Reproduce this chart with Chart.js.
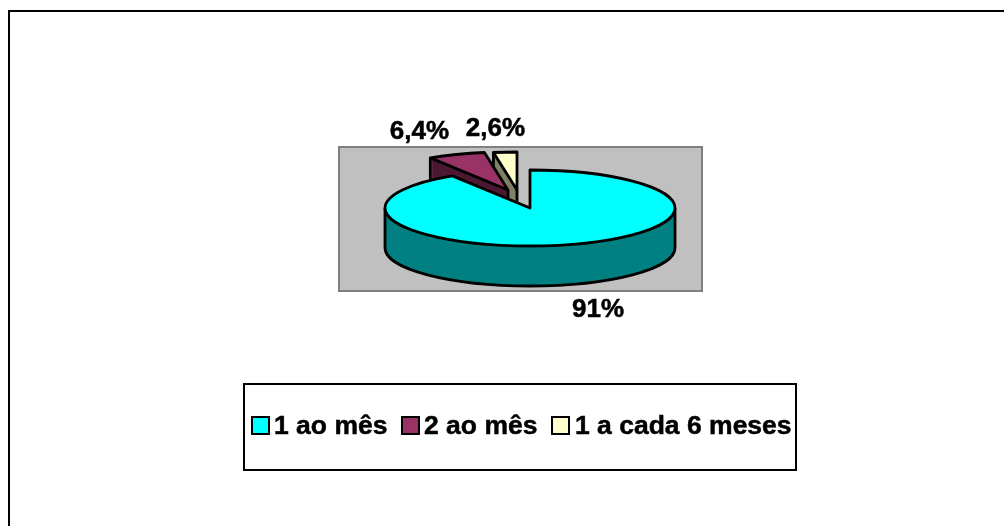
<!DOCTYPE html>
<html><head><meta charset="utf-8">
<style>html,body{margin:0;padding:0;background:#fff}#w{position:relative;width:1004px;height:526px}canvas{display:block}</style>
<script src="https://cdn.jsdelivr.net/npm/chart.js@4"></script>
</head><body><div id="w"><canvas id="c" width="1004" height="526"></canvas></div>
<script>
const categories = ['1 ao mês', '2 ao mês', '1 a cada 6 meses'];
const values = [91, 6.4, 2.6];
const valueLabels = ['91%', '6,4%', '2,6%'];
const topColors = ['#00FFFF', '#993366', '#FFFFCC'];
const sideColors = ['#008080', '#4D1A33', '#808066'];

const FONT = 'bold 26.5px "Liberation Sans", Arial, sans-serif';
const LABEL_FONT = 'bold 26px "Liberation Sans", Arial, sans-serif';
const TILT = 38 / 145, DEPTH = 40;
const explode = [[0, 0], [-22, -18], [-13, -18]];
const labelPos = [[598, 310], [419.5, 132], [495.5, 129]];

function withOpts(arc, fn, color) {
  const saved = arc.options;
  arc.options = Object.assign({}, saved, {backgroundColor: color, borderWidth: 0, borderColor: color, spacing: 0, offset: 0});
  fn();
  arc.options = saved;
}
function fillArc(ctx, arc, dx, dy, color) {
  ctx.save();
  ctx.translate(arc.x + dx, arc.y + dy);
  ctx.scale(1, TILT);
  ctx.translate(-arc.x, -arc.y);
  withOpts(arc, () => arc.draw(ctx), color);
  ctx.restore();
}
function outlinePath(ctx, arc, dx, dy) {
  const x = arc.x + dx, y = arc.y + dy, r = arc.outerRadius;
  ctx.beginPath();
  ctx.moveTo(x, y);
  ctx.ellipse(x, y, r, r * TILT, 0, arc.startAngle, arc.endAngle);
  ctx.closePath();
}
function pt(arc, a, dx, dy) {
  return [arc.x + dx + arc.outerRadius * Math.cos(a), arc.y + dy + arc.outerRadius * TILT * Math.sin(a)];
}
function heavyText(ctx, t, x, y) {
  ctx.fillText(t, x, y);
  ctx.strokeText(t, x, y);
}

const pie3d = {
  id: 'pie3d',
  beforeDraw(chart) {
    const ctx = chart.ctx;
    ctx.save();
    ctx.fillStyle = '#fff';
    ctx.fillRect(0, 0, 1004, 526);
    ctx.fillStyle = '#C0C0C0';
    ctx.strokeStyle = '#808080';
    ctx.lineWidth = 2;
    ctx.fillRect(339, 147, 363, 144);
    ctx.strokeRect(339, 147, 363, 144);
    ctx.strokeStyle = '#000';
    ctx.strokeRect(9, 11, 1100, 600);
    ctx.restore();
  },
  beforeDatasetDraw(chart) {
    const ctx = chart.ctx;
    const arcs = chart.getDatasetMeta(0).data;
    ctx.save();
    ctx.lineJoin = 'round';
    [2, 1, 0].forEach(i => {
      const arc = arcs[i], [dx, dy] = explode[i];
      for (let d = DEPTH; d > 0; d--) fillArc(ctx, arc, dx, dy + d, sideColors[i]);
      ctx.strokeStyle = '#000';
      ctx.lineWidth = 2.8;
      const s = arc.startAngle;
      if (i === 0) {
        ctx.beginPath();
        ctx.ellipse(arc.x + dx, arc.y + dy + DEPTH, arc.outerRadius, arc.outerRadius * TILT, 0, 0, Math.PI);
        ctx.stroke();
      }
      const edges = i === 0 ? [0, Math.PI] : [s];
      edges.forEach(a => {
        const [px, py] = pt(arc, a, dx, dy);
        ctx.beginPath(); ctx.moveTo(px, py); ctx.lineTo(px, py + DEPTH); ctx.stroke();
      });
      if (i !== 0) {
        const bx = arc.x + dx, by = arc.y + dy;
        const [px, py] = pt(arc, s, dx, dy);
        ctx.beginPath(); ctx.moveTo(bx, by); ctx.lineTo(bx, by + DEPTH); ctx.lineTo(px, py + DEPTH); ctx.stroke();
      }
      fillArc(ctx, arc, dx, dy, topColors[i]);
      outlinePath(ctx, arc, dx, dy);
      ctx.stroke();
    });
    ctx.restore();
    return false;
  },
  afterDraw(chart) {
    const ctx = chart.ctx;
    ctx.save();
    ctx.fillStyle = '#000';
    ctx.strokeStyle = '#000';
    ctx.lineWidth = 0.5;
    ctx.font = LABEL_FONT;
    ctx.textAlign = 'center';
    ctx.textBaseline = 'middle';
    valueLabels.forEach((t, i) => heavyText(ctx, t, labelPos[i][0], labelPos[i][1]));
    ctx.lineWidth = 2;
    ctx.fillStyle = '#fff';
    ctx.fillRect(244, 384, 552, 86);
    ctx.strokeRect(244, 384, 552, 86);
    ctx.font = FONT;
    ctx.textAlign = 'left';
    const swatchX = [252, 402, 552], textX = [274, 424, 575];
    categories.forEach((t, i) => {
      ctx.lineWidth = 2;
      ctx.fillStyle = topColors[i];
      ctx.fillRect(swatchX[i], 417, 17, 17);
      ctx.strokeRect(swatchX[i], 417, 17, 17);
      ctx.fillStyle = '#000';
      ctx.lineWidth = 0.5;
      heavyText(ctx, t, textX[i], 427);
    });
    ctx.restore();
  }
};

new Chart(document.getElementById('c'), {
  type: 'pie',
  data: {labels: categories, datasets: [{data: values, backgroundColor: topColors, borderWidth: 0, radius: 145}]},
  options: {
    responsive: false, animation: false,
    layout: {padding: {left: 56, bottom: 110}},
    plugins: {legend: {display: false}, tooltip: {enabled: false}}
  },
  plugins: [pie3d]
});
</script></body></html>
